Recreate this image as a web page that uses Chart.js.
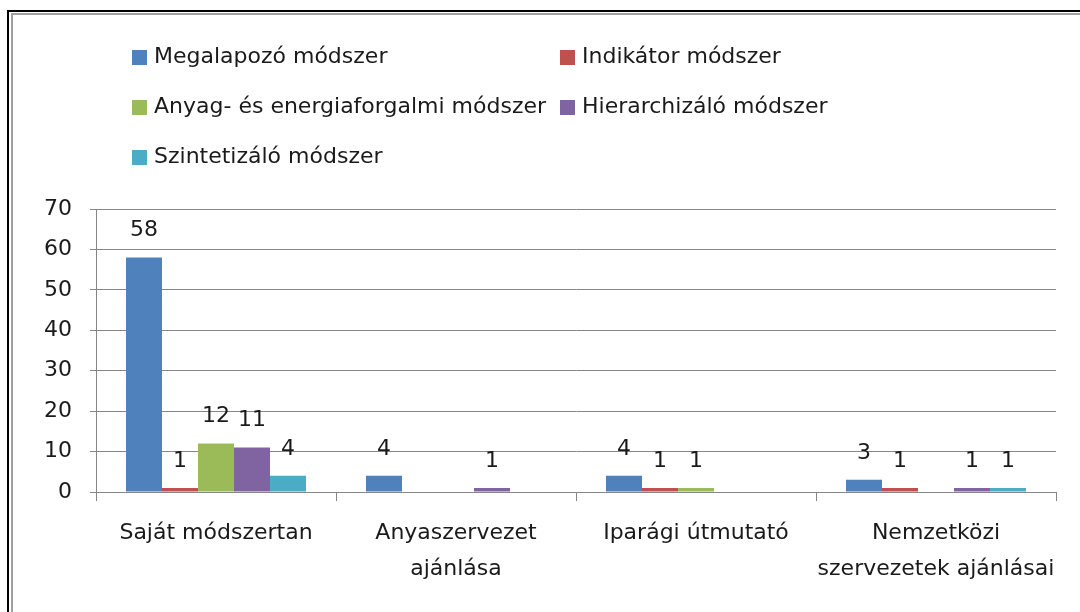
<!DOCTYPE html>
<html lang="hu">
<head>
<meta charset="utf-8" />
<title>Módszerek</title>
<script src="https://cdn.jsdelivr.net/npm/chart.js@4.4.1/dist/chart.umd.min.js"></script>
<style>
	html, body { margin: 0; padding: 0; background: #fff; overflow: hidden; }
	#wrap { position: relative; width: 1080px; height: 612px; overflow: hidden; }
	.edge { position: absolute; }
	#edgeTop { left: 7px; top: 10px; width: 1073px; height: 2px; background: #000; }
	#edgeLeft { left: 7px; top: 10px; width: 2px; height: 602px; background: #000; }
	#edgeTop2 { left: 11px; top: 13px; width: 1069px; height: 2px; background: #a0a0a0; }
	#edgeLeft2 { left: 11px; top: 13px; width: 2px; height: 599px; background: #a0a0a0; }
	canvas { position: absolute; left: 0; top: 0; }
</style>
</head>
<body>
<div id="wrap">
	<div class="edge" id="edgeTop"></div>
	<div class="edge" id="edgeLeft"></div>
	<div class="edge" id="edgeTop2"></div>
	<div class="edge" id="edgeLeft2"></div>
	<canvas id="chart" width="1080" height="612"></canvas>
</div>
<script>
	var categories = [
		"Saját módszertan",
		["Anyaszervezet", "ajánlása"],
		"Iparági útmutató",
		["Nemzetközi", "szervezetek ajánlásai"]
	];
	var seriesNames = [
		"Megalapozó módszer",
		"Indikátor módszer",
		"Anyag- és energiaforgalmi módszer",
		"Hierarchizáló módszer",
		"Szintetizáló módszer"
	];
	var megalapozo = [58, 4, 4, 3];
	var indikator = [1, 0, 1, 1];
	var anyagEnergia = [12, 0, 1, 0];
	var hierarchizalo = [11, 1, 0, 1];
	var szintetizalo = [4, 0, 0, 1];
	var colors = ["#4F81BD", "#C0504D", "#9BBB59", "#8064A2", "#4BACC6"];
	var yTicks = [0, 10, 20, 30, 40, 50, 60, 70];

	var FONT = "'DejaVu Sans', sans-serif";
	var values = [megalapozo, indikator, anyagEnergia, hierarchizalo, szintetizalo];

	// value labels over the bars
	var barLabels = {
		id: "barLabels",
		afterDatasetsDraw(chart) {
			var ctx = chart.ctx;
			ctx.save();
			ctx.font = "22px " + FONT;
			ctx.fillStyle = "#1a1a1a";
			ctx.textAlign = "center";
			ctx.textBaseline = "middle";
			chart.data.datasets.forEach((ds, i) => {
				chart.getDatasetMeta(i).data.forEach((bar, j) => {
					if (!ds.data[j]) return;
					ctx.fillText(String(ds.data[j]), bar.x, bar.y - 27);
				});
			});
			ctx.restore();
		}
	};

	// two column legend like the office one
	var gridLegend = {
		id: "gridLegend",
		afterDraw(chart) {
			var ctx = chart.ctx;
			var cols = [132, 560];
			var rows = [57, 107, 157];
			ctx.save();
			ctx.font = "22px " + FONT;
			ctx.textBaseline = "middle";
			chart.data.datasets.forEach((ds, i) => {
				var x = cols[i % 2], y = rows[Math.floor(i / 2)];
				ctx.fillStyle = ds.backgroundColor;
				ctx.fillRect(x, y - 7, 15, 15);
				ctx.fillStyle = "#1a1a1a";
				ctx.fillText(ds.label, x + 22, y);
			});
			ctx.restore();
		}
	};

	new Chart(document.getElementById("chart"), {
		type: "bar",
		data: {
			labels: categories,
			datasets: seriesNames.map((name, i) => ({
				label: name,
				data: values[i],
				backgroundColor: colors[i],
				borderWidth: 0,
				categoryPercentage: 0.75,
				barPercentage: 1.0
			}))
		},
		options: {
			responsive: false,
			animation: false,
			devicePixelRatio: 1,
			layout: { padding: { left: 0, top: 209, right: 24, bottom: 0 } },
			plugins: {
				legend: { display: false },
				tooltip: { enabled: false }
			},
			scales: {
				x: {
					grid: {
						display: true,
						drawOnChartArea: false,
						drawTicks: true,
						tickLength: 9,
						color: "#868686",
						offset: true
					},
					border: { color: "#868686" },
					ticks: {
						color: "#1a1a1a",
						font: { family: FONT, size: 22, lineHeight: 1.6 },
						padding: 15,
						maxRotation: 0,
						autoSkip: false
					},
					afterFit(scale) { scale.height = 120; }
				},
				y: {
					min: yTicks[0],
					max: yTicks[yTicks.length - 1],
					afterBuildTicks(scale) { scale.ticks = yTicks.map(v => ({ value: v })); },
					grid: {
						color: "#868686",
						tickLength: 6
					},
					border: { color: "#868686" },
					ticks: {
						color: "#1a1a1a",
						font: { family: FONT, size: 22 },
						padding: 18
					},
					afterFit(scale) { scale.width = 96; }
				}
			}
		},
		plugins: [barLabels, gridLegend]
	});
</script>
</body>
</html>
